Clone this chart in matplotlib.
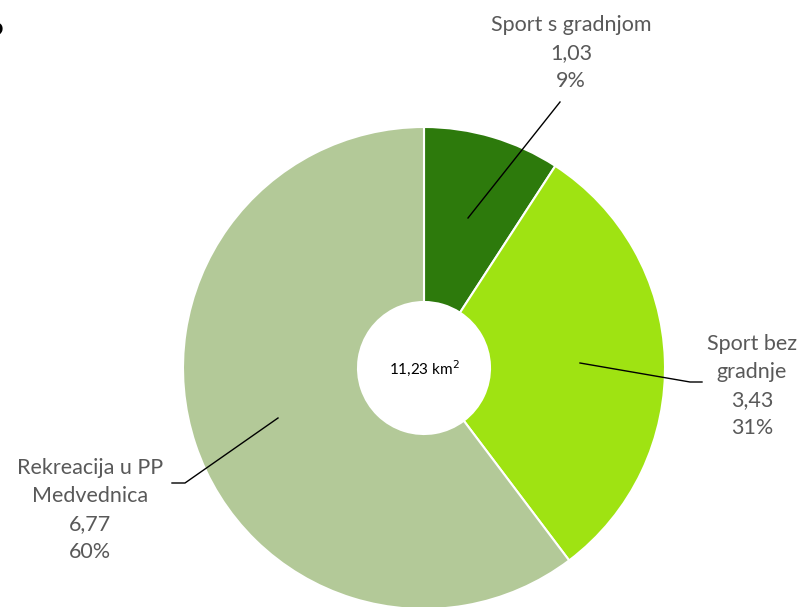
import matplotlib.pyplot as plt
import numpy as np

# podaci
kategorije = ['Sport s gradnjom', 'Sport bez\ngradnje', 'Rekreacija u PP\nMedvednica']
vrijednosti = [1.03, 3.43, 6.77]
postoci = ['9%', '31%', '60%']
boje = ['#2D7A0C', '#9FE312', '#B3C998']
ukupno = '11,23 km$^2$'

W, H = 798, 607
def py(y):  # piksel y -> koordinata
    return H - y

fig = plt.figure(figsize=(W / 100, H / 100), dpi=100)
ax = fig.add_axes([0, 0, 1, 1])

cx, cy, R, r_rupa = 424, py(368), 241, 66
ax.pie(vrijednosti, colors=boje, startangle=90, counterclock=False,
       center=(cx, cy), radius=R,
       wedgeprops=dict(width=R - r_rupa, edgecolor='white', linewidth=1.5))
ax.set_xlim(0, W)
ax.set_ylim(0, H)
ax.set_aspect('equal')
ax.axis('off')

ax.text(cx, cy, ukupno, ha='center', va='center', fontsize=11,
        family='Lato', color='black')

siva = '#595959'
oznake = [f'{k}\n{v:.2f}'.replace('.', ',') + f'\n{p}' for k, v, p in zip(kategorije, vrijednosti, postoci)]
poz = [(571, 53), (752, 386), (90, 510)]
for t, (x, y) in zip(oznake, poz):
    ax.text(x, py(y), t, ha='center', va='center', fontsize=15.5,
            family='Lato', color=siva, linespacing=1.5)

# linije
ax.plot([468, 560], [py(218), py(102)], color='black', lw=1)
ax.plot([580, 690, 702], [py(363), py(382), py(382)], color='black', lw=1)
ax.plot([278, 185, 172], [py(418), py(483), py(483)], color='black', lw=1)

# odrezani znak u kutu
ax.text(5, py(38), '?', ha='right', va='center', fontsize=26,
        fontweight='bold', color='black', family='DejaVu Sans')

fig.savefig('out.png', dpi=100)
